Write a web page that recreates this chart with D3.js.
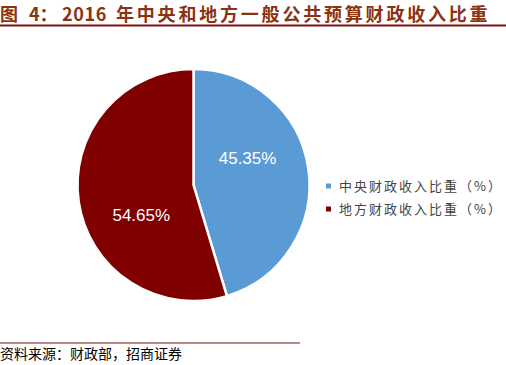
<!DOCTYPE html>
<html>
<head>
<meta charset="utf-8">
<script src="https://cdn.jsdelivr.net/npm/d3@7"></script>
<style>
  body { margin: 0; background: #fff; }
  svg { display: block; }
</style>
</head>
<body>
<div id="chart"></div>
<script>
const categories = ["中央财政收入比重（%）", "地方财政收入比重（%）"];
const shares = [45.35, 54.65];
const sliceLabels = ["45.35%", "54.65%"];
const colors = ["#5B9BD5", "#800000"];

const width = 506, height = 365;
const cx = 193.5, cy = 185, radius = 116;

const svg = d3.select("#chart").append("svg")
  .attr("width", width)
  .attr("height", height);

// title, split so the spacing follows the original
const title = svg.append("text")
  .attr("y", 21)
  .attr("fill", "#8B3210")
  .attr("font-family", "'Noto Sans CJK SC', sans-serif")
  .attr("font-weight", "bold")
  .attr("font-size", 18);
title.append("tspan").attr("x", 0).text("图");
title.append("tspan").attr("x", 29).text("4：");
title.append("tspan").attr("x", 62).attr("letter-spacing", 0.6).text("2016");
title.append("tspan").attr("x", 116).attr("letter-spacing", 2.8).text("年中央和地方一般公共预算财政收入比重");

svg.append("line")
  .attr("x1", 0).attr("x2", width)
  .attr("y1", 25.5).attr("y2", 25.5)
  .attr("stroke", "#7A1212").attr("stroke-width", 2);

svg.append("line")
  .attr("x1", 0).attr("x2", 300)
  .attr("y1", 343).attr("y2", 343)
  .attr("stroke", "#7A1212").attr("stroke-width", 1.2);

svg.append("text")
  .attr("x", 0)
  .attr("y", 359)
  .attr("fill", "#000")
  .attr("font-family", "'Noto Sans CJK SC', sans-serif")
  .attr("font-size", 14)
  .text("资料来源：财政部，招商证券");

// pie
const pie = d3.pie().sort(null).value(d => d.value);
const arc = d3.arc().innerRadius(0).outerRadius(radius);
const labelArc = d3.arc().innerRadius(radius * 0.52).outerRadius(radius * 0.52);

const data = categories.map((c, i) => ({ name: c, value: shares[i], label: sliceLabels[i], color: colors[i] }));

const g = svg.append("g").attr("transform", "translate(" + cx + "," + cy + ")");

g.selectAll("path")
  .data(pie(data))
  .enter()
  .append("path")
  .attr("d", arc)
  .attr("fill", d => d.data.color)
  .attr("stroke", "#fff")
  .attr("stroke-width", 2.5)
  .attr("stroke-linejoin", "round");

// labels sit a bit before the middle of each slice, like the Excel original
const labelPos = d => {
  const a = d.startAngle + (d.endAngle - d.startAngle) * 0.39;
  return labelArc.centroid({ startAngle: a, endAngle: a });
};

g.selectAll("text.val")
  .data(pie(data))
  .enter()
  .append("text")
  .attr("class", "val")
  .attr("transform", d => "translate(" + labelPos(d) + ")")
  .attr("text-anchor", "middle")
  .attr("dy", "0.35em")
  .attr("fill", "#fff")
  .attr("font-family", "Arial, 'Liberation Sans', sans-serif")
  .attr("font-size", 17)
  .text(d => d.data.label);

// legend
const legend = svg.append("g").attr("transform", "translate(326,186)");
const items = legend.selectAll("g")
  .data(data)
  .enter()
  .append("g")
  .attr("transform", (d, i) => "translate(0," + i * 23 + ")");

items.append("rect")
  .attr("x", 0).attr("y", -2.5)
  .attr("width", 5).attr("height", 5)
  .attr("fill", d => d.color);

items.append("text")
  .attr("x", 13)
  .attr("dy", "0.35em")
  .attr("fill", "#444")
  .attr("font-family", "'Noto Sans CJK SC', sans-serif")
  .attr("font-size", 13)
  .attr("letter-spacing", 2)
  .text(d => d.name);
</script>
</body>
</html>
